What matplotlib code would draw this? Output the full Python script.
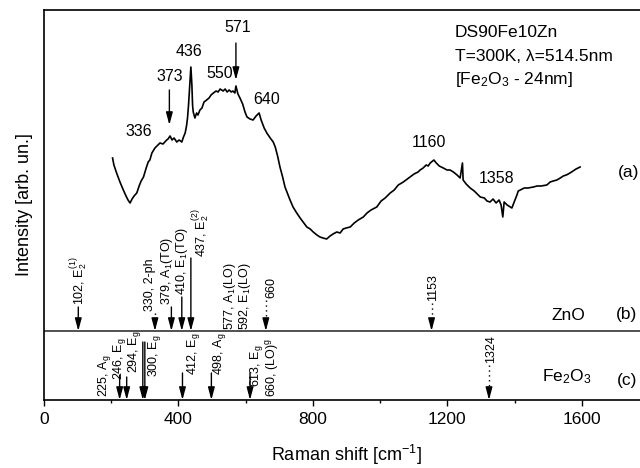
import matplotlib
matplotlib.use("Agg")
import matplotlib.pyplot as plt
from matplotlib.ticker import MultipleLocator
from matplotlib.transforms import offset_copy

plt.rcParams["font.family"] = ["Liberation Sans", "DejaVu Sans"]
plt.rcParams["mathtext.fontset"] = "custom"
plt.rcParams["mathtext.rm"] = "Liberation Sans"
plt.rcParams["mathtext.it"] = "Liberation Sans:italic"

# ---------- Measured spectrum (a) ----------
shift = [204, 208, 216, 226, 236, 244, 250, 256, 262, 268, 276, 283, 289, 296,
         304, 310, 315, 321, 330, 336, 345, 354, 365, 369, 375, 381, 387, 395,
         402, 410, 415, 420, 424, 427, 430, 433, 437, 440, 442, 444, 449, 454,
         458, 464, 470, 476, 484, 491, 497, 504, 512, 518, 524, 533, 539, 545,
         551, 557, 562, 568, 571, 577, 583, 591, 598, 604, 613, 622, 631, 640,
         646, 655, 663, 673, 682, 688, 695, 702, 710, 717, 725, 732, 741, 752,
         762, 771, 782, 792, 801, 812, 821, 830, 841, 851, 860, 871, 881, 890,
         899, 911, 923, 935, 950, 961, 973, 990, 1003, 1015, 1030, 1042, 1054,
         1069, 1077, 1089, 1101, 1113, 1119, 1128, 1137, 1143, 1149, 1160, 1167,
         1176, 1188, 1199, 1208, 1218, 1229, 1238, 1245, 1247, 1256, 1268, 1280,
         1289, 1298, 1310, 1318, 1327, 1336, 1345, 1354, 1360, 1365, 1369, 1378,
         1387, 1392, 1399, 1407, 1411, 1417, 1429, 1440, 1456, 1467, 1479, 1496,
         1506, 1515, 1526, 1536, 1545, 1554, 1565, 1574, 1583, 1595]
intensity = [242, 235, 227, 218, 210, 204, 200, 197, 201, 204, 207, 214, 219, 223,
             232, 238, 240, 247, 252, 254, 257, 256, 260, 261, 264, 260, 262, 258,
             260, 258, 263, 267, 274, 282, 295, 312, 333, 315, 295, 288, 282, 287,
             285, 290, 292, 298, 300, 302, 305, 307, 309, 308, 311, 309, 311, 308,
             310, 308, 309, 307, 314, 306, 302, 296, 288, 283, 281, 280, 284, 287,
             280, 272, 267, 262, 258, 253, 244, 233, 223, 213, 206, 200, 193, 187,
             182, 178, 173, 171, 168, 165, 163, 162, 161, 164, 166, 168, 167, 171,
             172, 173, 177, 180, 183, 187, 190, 193, 199, 202, 207, 210, 215,
             218, 220, 223, 226, 228, 230, 232, 235, 234, 237, 240, 237,
             234, 232, 230, 230, 228, 225, 222, 237, 220, 216, 212, 209,
             206, 203, 202, 199, 198, 201, 197, 200, 195, 183, 198, 195,
             193, 192, 198, 205, 209, 210, 212, 212, 213, 214, 214, 215,
             218, 219, 220, 222, 224, 225, 227, 229, 231, 233]

# peak labels on the spectrum
peak_text = ["336", "373", "436", "550", "571", "640", "1160", "1358"]
peak_x = [281, 375, 432, 522, 577, 661, 1146, 1345]
peak_y = [268, 323, 348, 326, 372, 300, 257, 221]
marked_peaks = [373, 571]

# ---------- Reference modes (b) ZnO and (c) Fe2O3 ----------
zno_modes = [102, 330, 379, 410, 437, 660, 1153]
zno_labels = [r"102, $\mathregular{E_2^{(1)}}$", "330, 2-ph",
              r"379, $\mathregular{A_1}$(TO)", r"410, $\mathregular{E_1}$(TO)",
              r"437, $\mathregular{E_2^{(2)}}$", "660", "1153"]
zno_dotted = [False, True, False, False, False, True, True]
zno_text_only = [577, 592]
zno_text_only_labels = [r"577, $\mathregular{A_1}$(LO)", r"592, $\mathregular{E_1}$(LO)"]

fe_modes = [225, 246, 294, 300, 412, 498, 613, 1324]
fe_labels = [r"225, $\mathregular{A_g}$", r"246, $\mathregular{E_g}$",
             r"294, $\mathregular{E_g}$", r"300, $\mathregular{E_g}$",
             r"412, $\mathregular{E_g}$", r"498, $\mathregular{A_g}$",
             r"613, $\mathregular{E_g}$", "1324"]
fe_dotted = [False, False, False, False, False, False, False, True]
fe_text_only = [660]
fe_text_only_labels = [r"660, (LO)$\mathregular{^g}$"]

# ---------- Layout of the stick diagrams ----------
ZNO_BASE = 69
FE_BASE = 0
zno_tail = [24, 18, 24, 34, 73, 31, 28]        # arrow length above base
zno_lab_bottom = [26, 20, 26, 36, 74, 33, 30]
zno_lab_dx = [1, -5, -4, 0, 10, 6, 2]           # pixels
zno_text_only_dx = [-8, 2]

fe_tail = [25, 23, 58, 58, 27, 27, 27, 35]
fe_lab_bottom = [3, 20, 27, 23, 25, 25, 13, 37]
fe_lab_dx = [-15, -7, -8, 10, 11, 8, 6, 2]
fe_text_only_dx = [7]

ARROW = dict(arrowstyle="-|>,head_length=0.75,head_width=0.2", color="black",
             lw=1.0, shrinkA=0, shrinkB=0, mutation_scale=10)
STICK_FS = 9

fig = plt.figure(figsize=(6.4, 4.68), dpi=100)
ax = fig.add_axes([44 / 640, 68 / 468, 605 / 640, 390 / 468])

ax.plot(shift, intensity, color="black", lw=1.2)

for txt, x, y in zip(peak_text, peak_x, peak_y):
    ax.text(x, y, txt, ha="center", va="center", fontsize=11.5)
ax.annotate("", xy=(marked_peaks[0], 275), xytext=(marked_peaks[0], 310), arrowprops=ARROW)
ax.annotate("", xy=(marked_peaks[1], 320), xytext=(marked_peaks[1], 357), arrowprops=ARROW)


def shifted(dx):
    # dx in pixels at 100 dpi -> points
    return offset_copy(ax.transData, fig=fig, x=dx * 0.72, y=0, units="points")


def draw_sticks(modes, labels, dotted, tails, bottoms, dxs, base):
    for m, lab, dot, tail, bot, dx in zip(modes, labels, dotted, tails, bottoms, dxs):
        if dot:
            ax.plot([m, m], [base + tail, base + 10], color="black", lw=1.0, ls=(0, (1, 2.5)))
            ax.annotate("", xy=(m, base), xytext=(m, base + 10), arrowprops=ARROW)
        else:
            ax.annotate("", xy=(m, base), xytext=(m, base + tail), arrowprops=ARROW)
        ax.text(m, base + bot, lab, rotation=90, ha="center", va="bottom",
                fontsize=STICK_FS, transform=shifted(dx))


def draw_text_only(modes, labels, dxs, y):
    for m, lab, dx in zip(modes, labels, dxs):
        ax.text(m, y, lab, rotation=90, ha="center", va="bottom",
                fontsize=STICK_FS, transform=shifted(dx))


ax.axhline(ZNO_BASE, color="#333333", lw=1.2)
draw_sticks(zno_modes, zno_labels, zno_dotted, zno_tail, zno_lab_bottom, zno_lab_dx, ZNO_BASE)
draw_text_only(zno_text_only, zno_text_only_labels, zno_text_only_dx, ZNO_BASE + 1)
draw_sticks(fe_modes, fe_labels, fe_dotted, fe_tail, fe_lab_bottom, fe_lab_dx, FE_BASE)
draw_text_only(fe_text_only, fe_text_only_labels, fe_text_only_dx, FE_BASE + 3)

# panel tags and sample info
ax.text(1560, 85, "ZnO", ha="center", va="center", fontsize=12.5)
ax.text(1556, 23, r"Fe$\mathregular{_2}$O$\mathregular{_3}$", ha="center", va="center", fontsize=12.5)
ax.text(1738, 227, "(a)", ha="center", va="center", fontsize=12.5)
ax.text(1734, 85, "(b)", ha="center", va="center", fontsize=12.5)
ax.text(1734, 20, "(c)", ha="center", va="center", fontsize=12.5)
ax.text(1223, 367, "DS90Fe10Zn", ha="left", va="center", fontsize=12.5)
ax.text(1223, 343, "T=300K, λ=514.5nm", ha="left", va="center", fontsize=12.5)
ax.text(1223, 320, r"[Fe$\mathregular{_2}$O$\mathregular{_3}$ - 24nm]", ha="left", va="center",
        fontsize=12.5)

ax.set_xlim(0, 1800)
ax.set_ylim(0, 390)
ax.xaxis.set_major_locator(MultipleLocator(400))
ax.xaxis.set_minor_locator(MultipleLocator(200))
ax.tick_params(axis="x", which="major", direction="out", length=4, width=1.0,
               labelsize=12.5, pad=5)
ax.tick_params(axis="x", which="minor", direction="out", length=2.5, width=1.0)
ax.set_yticks([])
for sp in ax.spines.values():
    sp.set_linewidth(1.2)
ax.set_xlabel(r"Raman shift [cm$\mathregular{^{-1}}$]", fontsize=13, labelpad=11)
ax.set_ylabel("Intensity [arb. un.]", fontsize=13, labelpad=8)

fig.savefig("out.png", dpi=100)
